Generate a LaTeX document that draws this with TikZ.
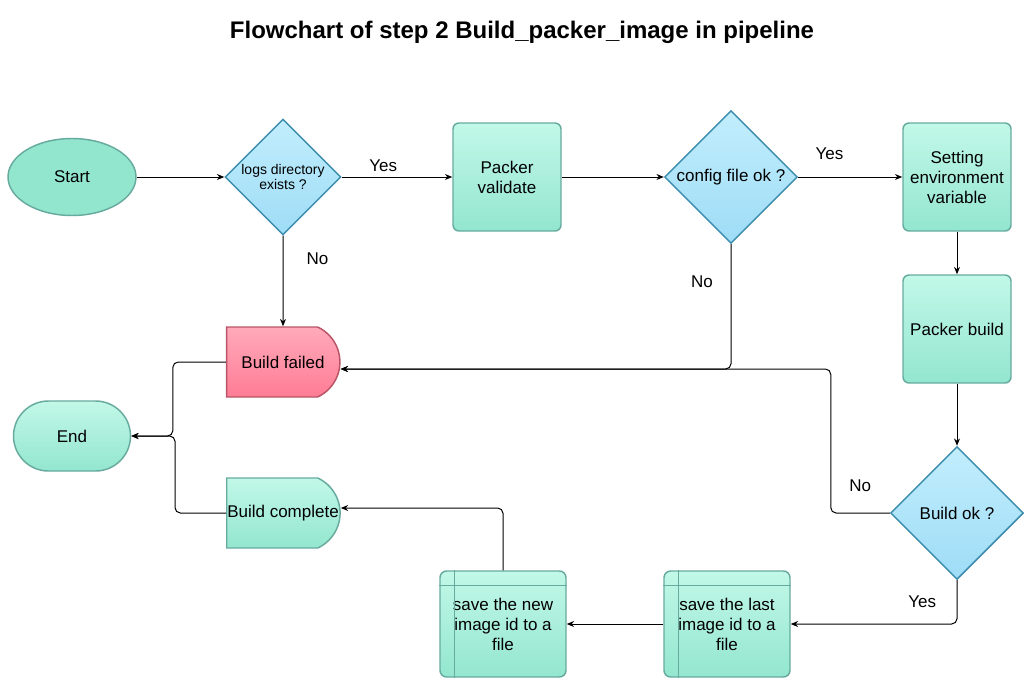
\documentclass[tikz,border=0pt]{standalone}
\usepackage{fontspec}
\setmainfont{Liberation Sans}
\usetikzlibrary{positioning,shapes.geometric,shapes.misc,arrows.meta}

\definecolor{greenline}{HTML}{67AB9F}
\definecolor{greentop}{HTML}{C2F8E8}
\definecolor{greenbot}{HTML}{93E6CF}
\definecolor{startfill}{HTML}{92E6CD}
\definecolor{blueline}{HTML}{3B8CAD}
\definecolor{bluetop}{HTML}{C2EEFD}
\definecolor{bluebot}{HTML}{9EDCF6}
\definecolor{redline}{HTML}{B85466}
\definecolor{redtop}{HTML}{FFAABA}
\definecolor{redbot}{HTML}{FF7C95}

\begin{document}
\begin{tikzpicture}[x=0.75pt,y=-0.75pt,auto,node distance=168pt,
			>={Stealth[length=5.5pt,width=4.5pt]},
			every node/.style = {font=\fontsize{12.75}{15}\selectfont},
			line/.style = {->,line width=0.75pt,rounded corners=4pt},
			term node/.style = {ellipse,draw=greenline,fill=startfill,line width=1.1pt, inner sep = 0pt, minimum width = 96pt, minimum height = 57.75pt},
			decision node/.style = {diamond,draw=blueline,top color=bluetop,bottom color=bluebot,line width=1.1pt, inner sep = 0pt, minimum size = 99.75pt, align=center},
			process node/.style = {rectangle,rounded corners=4.5pt,draw=greenline,top color=greentop,bottom color=greenbot,line width=1.1pt, inner sep = 1pt, minimum size = 81pt, align=center},
			delay node/.style = {rounded rectangle,rounded rectangle left arc=none,rounded rectangle arc length=130,line width=1.1pt, inner sep = 1pt, minimum width = 87pt, minimum height = 52.5pt},
			end node/.style = {rounded rectangle,draw=greenline,top color=greentop,bottom color=greenbot,line width=1.1pt, inner sep = 0pt, minimum width = 87.75pt, minimum height = 52.5pt},
			store node/.style = {rectangle,rounded corners=5pt,draw=greenline,top color=greentop,bottom color=greenbot,line width=1.1pt, inner sep = 1pt, minimum width = 94.5pt, minimum height = 79.5pt, align=center}]
			
			\useasboundingbox (0,0) rectangle (1035,689);
			
			\node (0) at (522,32) {\bfseries\fontsize{18}{21}\selectfont Flowchart of step 2 Build\_packer\_image in pipeline};
			
			\node[term node] (1) at (72,177) {Start};
			\node[decision node,minimum size = 87pt,font=\fontsize{10.5}{11.5}\selectfont] [right of = 1,node distance=158.25pt](2) {logs directory\\exists ?};
			\node[process node] [right of = 2](3) {Packer\\validate};
			\node[decision node] [right of = 3](4) {config file ok ?};
			\node[process node] [right of = 4,node distance=169.5pt](5) {Setting\\environment\\variable};
			\node[process node] [below of = 5,node distance=114pt](6) {Packer build};
			\node[decision node] [below of = 6,node distance=138pt](7) {Build ok ?};
			\node[store node] (8) at (727,624) {save the last\\image id to a\\file};
			\node[store node] [left of = 8](9) {save the new\\image id to a\\file};
			\node[delay node,draw=redline,top color=redtop,bottom color=redbot] [below of = 2,node distance=138.75pt](11) {Build failed};
			\node[delay node,draw=greenline,top color=greentop,bottom color=greenbot] [below of = 11,node distance=113.25pt](10) {Build complete};
			\node[end node] [below of = 1,node distance=194.25pt](12) {End};
			
			\foreach \n in {8,9} {
				\draw[greenline,line width=1.1pt] ([xshift=11.25pt]\n.north west) -- ([xshift=11.25pt]\n.south west);
				\draw[greenline,line width=1.1pt] ([yshift=-11.25pt]\n.north west) -- ([yshift=-11.25pt]\n.north east);
			}
			
			\path[line] (1) edge (2);
			\draw[line] (2) -- node[pos=.375,above] {Yes} (3);
			\draw[line] (2) -- node[pos=.25,right=14pt] {No} (11);
			\draw[line] (3) -- (4);
			\draw[line] (4) -- node[pos=.3,above=9pt] {Yes} (5);
			\draw[line] (4.south) |- node[pos=.15,left=10pt] {No} ([yshift=-5.25pt]11.east);
			\draw[line] (5) -- (6);
			\draw[line] (6) -- (7);
			\draw[line] (7.west) -- node[above=12pt] {No} ++(-59,0) |- ([yshift=-5.25pt]11.east);
			\draw[line] (7.south) |- node[pos=.25,left=12pt] {Yes} (8.east);
			\draw[line] (8) -- (9);
			\draw[line] (9.north) |- ([yshift=3.75pt]10.east);
			\draw[line] (11.west) -- ++(-53,0) |- (12.east);
			\draw[line] (10.west) -- ++(-51,0) |- (12.east);
			
			\end{tikzpicture}
\end{document}
